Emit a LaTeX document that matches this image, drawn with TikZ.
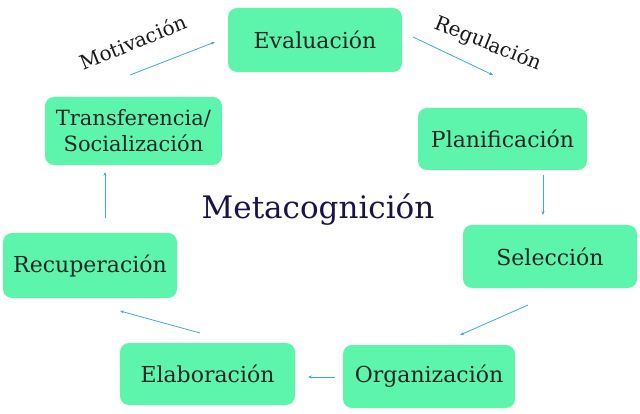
\documentclass[tikz,border=0pt]{standalone}
\usepackage{fontspec}
\setmainfont{DejaVu Serif}
\usetikzlibrary{arrows.meta}
\definecolor{boxg}{HTML}{5DF5AB}
\definecolor{arr}{HTML}{3BA9E0}
\definecolor{navy}{HTML}{1A1446}
\begin{document}
\begin{tikzpicture}[x=1pt,y=-1pt,
  bx/.style={fill=boxg,rounded corners=9pt,inner sep=0pt,font=\fontsize{22}{26}\selectfont,text=black!85,align=center},
  ar/.style={draw=arr,line width=0.8pt,-{Stealth[length=4pt,width=3pt]}},
  lb/.style={font=\fontsize{20}{24}\selectfont,text=black!90}]
\useasboundingbox (0,0) rectangle (640,414);
\node[bx,minimum width=174,minimum height=64] (ev) at (315,40) {Evaluación};
\node[bx,minimum width=169,minimum height=62] (pl) at (502.5,139) {Planificación};
\node[bx,minimum width=174,minimum height=63] (se) at (550,256.5) {Selección};
\node[bx,minimum width=172,minimum height=63] (or) at (429,376.5) {Organización};
\node[bx,minimum width=175,minimum height=62] (el) at (207.5,374) {Elaboración};
\node[bx,minimum width=174,minimum height=65] (re) at (90,265.5) {Recuperación};
\node[bx,minimum width=177,minimum height=68,font=\fontsize{21}{26}\selectfont] (tr) at (133.5,131) {Transferencia/\\Socialización};
\node[font=\fontsize{31}{36}\selectfont,text=navy] (mc) at (318,210) {Metacognición};
\node[lb,rotate=22] (mo) at (133,42) {Motivación};
\node[lb,rotate=-22] (rg) at (488,44) {Regulación};
\coordinate (a1) at (130,75); \coordinate (a2) at (215,42);
\coordinate (b1) at (413,37); \coordinate (b2) at (493,75);
\coordinate (c1) at (543,175); \coordinate (c2) at (543,215);
\coordinate (d1) at (528,305); \coordinate (d2) at (460,335);
\coordinate (e1) at (335,377); \coordinate (e2) at (308,377);
\coordinate (f1) at (200,333); \coordinate (f2) at (120,311);
\coordinate (g1) at (105,218); \coordinate (g2) at (105,172);
\draw[ar] (a1) -- (a2);
\draw[ar] (b1) -- (b2);
\draw[ar] (c1) -- (c2);
\draw[ar] (d1) -- (d2);
\draw[ar] (e1) -- (e2);
\draw[ar] (f1) -- (f2);
\draw[ar] (g1) -- (g2);
\end{tikzpicture}
\end{document}
